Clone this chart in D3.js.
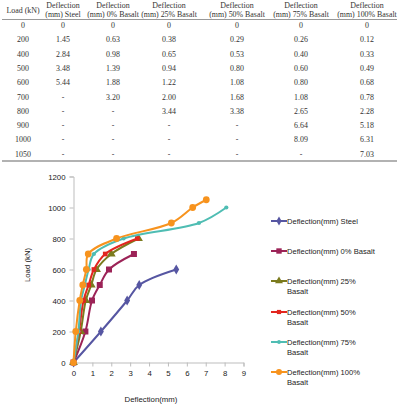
<!DOCTYPE html>
<html>
<head>
<meta charset="UTF-8">
<title>Load deflection</title>
<script src="https://cdn.jsdelivr.net/npm/d3@7"></script>
<style>
body{ margin:0; background:#fff; }
svg{ display:block; }
</style>
</head>
<body>
<div id="chart"></div>
<script>
// table + chart data
var loads = [0, 200, 400, 500, 600, 700, 800, 900, 1000, 1050];
var headers = ["Load (kN)", "Deflection|(mm) Steel", "Deflection|(mm) 0% Basalt", "Deflection|(mm) 25% Basalt",
  "Deflection|(mm) 50% Basalt", "Deflection|(mm) 75% Basalt", "Deflection|(mm) 100% Basalt"];
var steel    = [0, 1.45, 2.84, 3.48, 5.44, null, null, null, null, null];
var basalt0  = [0, 0.63, 0.98, 1.39, 1.88, 3.20, null, null, null, null];
var basalt25 = [0, 0.38, 0.65, 0.94, 1.22, 2.00, 3.44, null, null, null];
var basalt50 = [0, 0.29, 0.53, 0.80, 1.08, 1.68, 3.38, null, null, null];
var basalt75 = [0, 0.26, 0.40, 0.60, 0.80, 1.08, 2.65, 6.64, 8.09, null];
var basalt100= [0, 0.12, 0.33, 0.49, 0.68, 0.78, 2.28, 5.18, 6.31, 7.03];

var seriesNames = ["Deflection(mm) Steel", "Deflection(mm) 0% Basalt", "Deflection(mm) 25% Basalt",
  "Deflection(mm) 50% Basalt", "Deflection(mm) 75% Basalt", "Deflection(mm) 100% Basalt"];
var legendLines = [["Deflection(mm) Steel"], ["Deflection(mm) 0% Basalt"], ["Deflection(mm) 25%", "Basalt"],
  ["Deflection(mm) 50%", "Basalt"], ["Deflection(mm) 75%", "Basalt"], ["Deflection(mm) 100%", "Basalt"]];
var seriesValues = [steel, basalt0, basalt25, basalt50, basalt75, basalt100];
var colors = ["#5656a2", "#9c2357", "#7b7b1e", "#e2261f", "#4fbdb3", "#f7931e"];
var symbols = [d3.symbolDiamond, d3.symbolSquare, d3.symbolTriangle, d3.symbolSquare, d3.symbolCircle, d3.symbolCircle];
var symSize = [30, 36, 34, 22, 14, 36];

var xTicks = [0,1,2,3,4,5,6,7,8,9];
var yTicks = [0,200,400,600,800,1000,1200];

var W = 399, H = 409;
var svg = d3.select("#chart").append("svg").attr("width", W).attr("height", H);

// ---- table ----
var colX = [23, 63, 113, 169, 237, 301, 367];
var rowY0 = 25, rowStep = 14.3;
var serif = "'Liberation Serif', 'DejaVu Serif', serif";

var tbl = svg.append("g").attr("font-family", serif).attr("font-size", 7.9).attr("fill", "#333")
  .attr("text-anchor", "middle");

headers.forEach(function(h, i){
  var parts = h.split("|");
  if (parts.length == 1) {
    tbl.append("text").attr("x", colX[i]).attr("y", 12.5).text(parts[0]);
  } else {
    tbl.append("text").attr("x", colX[i]).attr("y", 7.5).text(parts[0]);
    tbl.append("text").attr("x", colX[i]).attr("y", 16.5).text(parts[1]);
  }
});
svg.append("line").attr("x1", 2).attr("x2", 397).attr("y1", 19.5).attr("y2", 19.5)
  .attr("stroke", "#999").attr("stroke-width", 1);

loads.forEach(function(l, r){
  var y = rowY0 + r * rowStep + 3;
  tbl.append("text").attr("x", colX[0]).attr("y", y).text(l);
  seriesValues.forEach(function(s, c){
    var v = s[r];
    tbl.append("text").attr("x", colX[c+1]).attr("y", y)
      .text(v == null ? "-" : (v === 0 ? "0" : v.toFixed(2)));
  });
});
svg.append("line").attr("x1", 2).attr("x2", 397).attr("y1", 161).attr("y2", 161)
  .attr("stroke", "#999").attr("stroke-width", 1.5);

// ---- chart ----
var sans = "'Liberation Sans', Arial, sans-serif";
var x = d3.scaleLinear().domain([0, 9]).range([73.5, 243.5]);
var y = d3.scaleLinear().domain([0, 1200]).range([362.5, 176.5]);

var xAxis = svg.append("g").attr("transform", "translate(0," + y(0) + ")")
  .call(d3.axisBottom(x).tickValues(xTicks).tickFormat(d3.format("d")).tickSize(4).tickPadding(4));
var yAxis = svg.append("g").attr("transform", "translate(" + x(0) + ",0)")
  .call(d3.axisLeft(y).tickValues(yTicks).tickFormat(d3.format("d")).tickSize(4).tickPadding(4));

[xAxis, yAxis].forEach(function(a){
  a.select(".domain").attr("stroke", "#bdbdbd");
  a.selectAll(".tick line").attr("stroke", "#bdbdbd");
  a.selectAll(".tick text").attr("font-family", sans).attr("font-size", 7.8).attr("fill", "#222");
});

svg.append("text").attr("font-family", sans).attr("font-size", 7.8).attr("fill", "#222")
  .attr("text-anchor", "middle")
  .attr("transform", "translate(30,265) rotate(-90)").text("Load (kN)");
svg.append("text").attr("font-family", sans).attr("font-size", 7.8).attr("fill", "#222")
  .attr("text-anchor", "middle").attr("x", 151).attr("y", 402).text("Deflection(mm)");

var line = d3.line()
  .x(function(d){ return x(d.v); })
  .y(function(d){ return y(d.load); })
  .curve(d3.curveCatmullRom.alpha(0.5));

seriesValues.forEach(function(s, i){
  var pts = [];
  s.forEach(function(v, r){ if (v != null) pts.push({load: loads[r], v: v}); });
  var g = svg.append("g");
  g.append("path").datum(pts).attr("d", line)
    .attr("fill", "none").attr("stroke", colors[i]).attr("stroke-width", 2);
  g.selectAll("path.m").data(pts).enter().append("path").attr("class", "m")
    .attr("transform", function(d){ return "translate(" + x(d.v) + "," + y(d.load) + ")"; })
    .attr("d", d3.symbol().type(symbols[i]).size(symSize[i]))
    .attr("fill", colors[i]);
});

// ---- legend ----
var legY = [221, 251, 281, 312, 342, 372];
var leg = svg.append("g").attr("font-family", sans).attr("font-size", 7.6).attr("fill", "#222");
seriesNames.forEach(function(n, i){
  var gy = legY[i];
  leg.append("line").attr("x1", 271).attr("x2", 287).attr("y1", gy).attr("y2", gy)
    .attr("stroke", colors[i]).attr("stroke-width", 2);
  leg.append("path").attr("transform", "translate(279," + gy + ")")
    .attr("d", d3.symbol().type(symbols[i]).size(symSize[i] * 0.8)).attr("fill", colors[i]);
  legendLines[i].forEach(function(t, k){
    leg.append("text").attr("x", 287).attr("y", gy + 3 + k * 10).text(t);
  });
});
</script>
</body>
</html>
